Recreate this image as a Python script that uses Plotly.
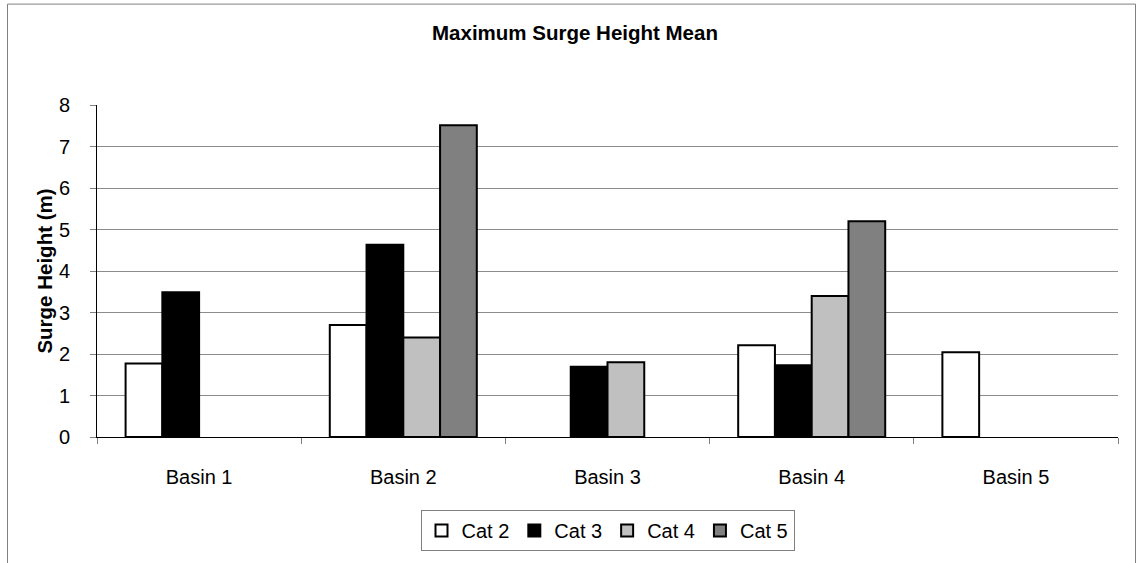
import plotly.graph_objects as go

basins = ["Basin 1", "Basin 2", "Basin 3", "Basin 4", "Basin 5"]
series_names = ["Cat 2", "Cat 3", "Cat 4", "Cat 5"]
cat2 = [1.77, 2.70, None, 2.21, 2.04]
cat3 = [3.49, 4.63, 1.69, 1.73, None]
cat4 = [None, 2.40, 1.80, 3.40, None]
cat5 = [None, 7.51, None, 5.20, None]
y_ticks = [0, 1, 2, 3, 4, 5, 6, 7, 8]

series_values = [cat2, cat3, cat4, cat5]
colors = ["#ffffff", "#000000", "#c0c0c0", "#808080"]

FONT = "Liberation Sans, Arial, sans-serif"

fig = go.Figure()
for name, vals, col in zip(series_names, series_values, colors):
    fig.add_trace(go.Bar(
        x=basins, y=vals, name=name,
        marker=dict(color=col, line=dict(color="#000000", width=2)),
    ))

W, H = 1138, 563
L, R, T, B = 97, 20, 105, 124
pw, ph = W - L - R, H - T - B

def px_x(x):
    return (x - L) / pw

def px_y(y):
    return (H - B - y) / ph

fig.update_layout(
    width=W, height=H,
    margin=dict(l=L, r=R, t=T, b=B),
    paper_bgcolor="white", plot_bgcolor="white",
    font=dict(family=FONT, size=20, color="#000000"),
    barmode="group", bargap=0.28, bargroupgap=0,
    title=dict(text="<b>Maximum Surge Height Mean</b>", x=575 / W, xanchor="center",
               xref="container", y=1 - 33 / H, yref="container", yanchor="middle",
               font=dict(size=20.5, family=FONT, color="#000000")),
    showlegend=True,
    legend=dict(orientation="h", x=0.5, xanchor="center", y=px_y(533), yanchor="middle",
                bordercolor="#808080", borderwidth=1, bgcolor="white",
                font=dict(size=20, family=FONT), itemwidth=30, traceorder="normal"),
    xaxis=dict(showline=True, linecolor="#000000", linewidth=1,
               ticks="outside", tickson="boundaries", ticklen=6, tickcolor="#808080",
               showgrid=False, ticklabelstandoff=22, fixedrange=True),
    yaxis=dict(range=[0, 8], tickvals=y_ticks, showline=True, linecolor="#000000", linewidth=1,
               ticks="outside", ticklen=6, tickcolor="#808080",
               showgrid=True, gridcolor="#8c8c8c", gridwidth=1, zeroline=False,
               ticklabelstandoff=16,
               title=dict(text="<b>Surge Height (m)</b>", font=dict(size=20.5, family=FONT), standoff=0)),
    shapes=[dict(type="rect", xref="paper", yref="paper",
                 x0=px_x(7.5), x1=px_x(1135.5), y0=px_y(3.5), y1=px_y(620),
                 line=dict(color="#808080", width=1), fillcolor="rgba(0,0,0,0)", layer="below")],
)

fig.write_html("out.html")
